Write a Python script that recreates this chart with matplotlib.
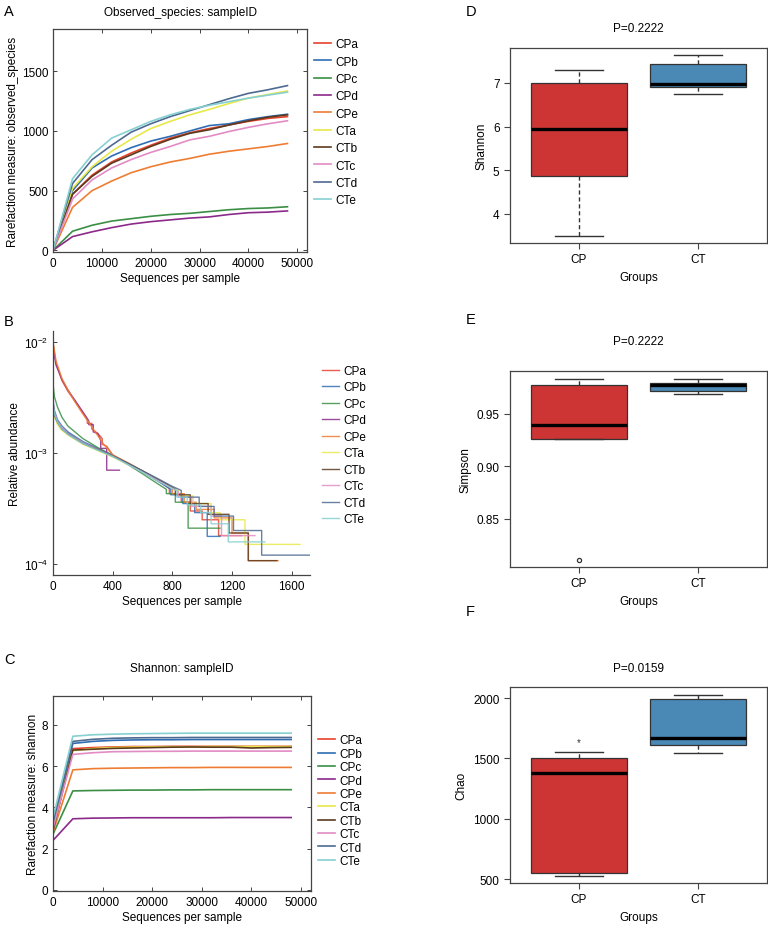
import matplotlib
matplotlib.use('Agg')
import matplotlib.pyplot as plt
import numpy as np

plt.rcParams['font.family'] = ['Liberation Sans', 'DejaVu Sans']

samples = ['CPa', 'CPb', 'CPc', 'CPd', 'CPe', 'CTa', 'CTb', 'CTc', 'CTd', 'CTe']
colors = ['#E8412C', '#2E6DB4', '#3A8F45', '#8B2A8B', '#EE7D33',
          '#E8E84A', '#5C3A1E', '#E28BC4', '#4E6A90', '#86D0D2']

# A: observed species rarefaction
depths = [0, 4000, 8000, 12000, 16000, 20000, 24000, 28000, 32000, 36000, 40000, 44000, 48000]
obs_CPa = [0, 470, 630, 740, 815, 880, 940, 985, 1020, 1050, 1080, 1105, 1120]
obs_CPb = [0, 500, 690, 790, 860, 915, 955, 1000, 1045, 1060, 1095, 1120, 1140]
obs_CPc = [0, 160, 210, 245, 265, 285, 300, 310, 325, 340, 350, 355, 365]
obs_CPd = [0, 115, 155, 190, 220, 240, 255, 270, 280, 300, 315, 320, 330]
obs_CPe = [0, 360, 500, 580, 650, 700, 740, 770, 805, 830, 850, 870, 895]
obs_CTa = [0, 520, 700, 830, 930, 1020, 1080, 1135, 1180, 1230, 1275, 1305, 1335]
obs_CTb = [0, 470, 620, 730, 800, 870, 930, 980, 1010, 1050, 1085, 1115, 1135]
obs_CTc = [0, 430, 590, 690, 760, 820, 870, 925, 955, 995, 1030, 1060, 1085]
obs_CTd = [0, 560, 760, 880, 990, 1060, 1120, 1170, 1220, 1270, 1315, 1345, 1380]
obs_CTe = [0, 600, 800, 940, 1010, 1080, 1135, 1180, 1215, 1245, 1275, 1300, 1325]
observed = [obs_CPa, obs_CPb, obs_CPc, obs_CPd, obs_CPe, obs_CTa, obs_CTb, obs_CTc, obs_CTd, obs_CTe]

# B: rank abundance (rank, relative abundance) knots, incl. step corners
ra_CPa = [(0, 1.0e-2), (20, 6.5e-3), (60, 4.5e-3), (100, 3.6e-3), (150, 2.9e-3), (200, 2.3e-3),
          (230, 2.0e-3), (230, 1.85e-3), (260, 1.85e-3), (260, 1.65e-3), (300, 1.5e-3),
          (330, 1.35e-3), (330, 1.2e-3), (360, 1.15e-3), (400, 9.6e-4), (500, 8.0e-4), (600, 6.8e-4),
          (700, 5.7e-4), (780, 4.8e-4), (780, 4.3e-4), (860, 4.3e-4), (860, 3.6e-4), (920, 3.6e-4),
          (920, 3.0e-4), (1000, 3.0e-4), (1000, 2.5e-4), (1110, 2.5e-4), (1110, 1.8e-4), (1265, 1.8e-4)]
ra_CPb = [(0, 3.0e-3), (10, 2.4e-3), (30, 2.0e-3), (60, 1.75e-3), (100, 1.55e-3), (200, 1.27e-3),
          (300, 1.1e-3), (400, 9.6e-4), (500, 8.1e-4), (600, 6.8e-4), (700, 5.6e-4), (790, 4.7e-4),
          (790, 4.2e-4), (870, 4.2e-4), (870, 3.5e-4), (950, 3.5e-4), (950, 2.9e-4), (1034, 2.9e-4),
          (1034, 1.77e-4), (1120, 1.77e-4)]
ra_CPc = [(0, 4.2e-3), (10, 3.2e-3), (30, 2.6e-3), (60, 2.1e-3), (100, 1.75e-3), (200, 1.35e-3),
          (300, 1.12e-3), (400, 9.5e-4), (500, 7.9e-4), (600, 6.5e-4), (700, 5.3e-4), (760, 4.7e-4),
          (760, 4.3e-4), (820, 4.3e-4), (820, 3.6e-4), (906, 3.6e-4), (906, 2.1e-4), (1120, 2.1e-4)]
ra_CPd = [(0, 9.0e-3), (20, 6.2e-3), (60, 4.6e-3), (100, 3.7e-3), (150, 2.95e-3), (200, 2.35e-3),
          (240, 1.95e-3), (240, 1.8e-3), (270, 1.8e-3), (270, 1.55e-3), (300, 1.5e-3),
          (320, 1.3e-3), (320, 1.1e-3), (360, 1.1e-3), (360, 7.0e-4), (445, 7.0e-4)]
ra_CPe = [(0, 1.0e-2), (20, 6.8e-3), (60, 4.7e-3), (100, 3.7e-3), (150, 2.85e-3), (200, 2.25e-3),
          (250, 1.8e-3), (290, 1.5e-3), (340, 1.2e-3), (400, 9.6e-4), (500, 8.2e-4), (600, 6.9e-4),
          (700, 5.8e-4), (800, 4.8e-4), (800, 4.3e-4), (880, 4.3e-4), (880, 3.6e-4), (960, 3.6e-4),
          (960, 3.1e-4), (1080, 3.1e-4), (1080, 2.6e-4), (1200, 2.6e-4), (1200, 1.9e-4),
          (1310, 1.9e-4), (1310, 1.07e-4), (1510, 1.07e-4)]
ra_CTa = [(0, 2.6e-3), (10, 2.1e-3), (30, 1.8e-3), (60, 1.6e-3), (100, 1.45e-3), (200, 1.2e-3),
          (300, 1.05e-3), (400, 9.2e-4), (500, 7.9e-4), (600, 6.8e-4), (700, 5.8e-4), (800, 4.9e-4),
          (840, 4.6e-4), (840, 4.1e-4), (940, 4.1e-4), (940, 3.5e-4), (1060, 3.5e-4), (1060, 2.9e-4),
          (1120, 2.9e-4), (1120, 2.5e-4), (1287, 2.5e-4), (1287, 1.5e-4), (1656, 1.5e-4)]
ra_CTb = [(0, 2.8e-3), (10, 2.2e-3), (30, 1.9e-3), (60, 1.65e-3), (100, 1.5e-3), (200, 1.23e-3),
          (300, 1.08e-3), (400, 9.4e-4), (500, 8.1e-4), (600, 6.9e-4), (700, 5.8e-4), (800, 4.9e-4),
          (820, 4.7e-4), (820, 4.2e-4), (920, 4.2e-4), (920, 3.5e-4), (1040, 3.5e-4), (1040, 2.8e-4),
          (1180, 2.8e-4), (1180, 1.9e-4), (1309, 1.9e-4), (1309, 1.07e-4), (1500, 1.07e-4)]
ra_CTc = [(0, 2.9e-3), (10, 2.3e-3), (30, 1.95e-3), (60, 1.7e-3), (100, 1.5e-3), (200, 1.24e-3),
          (300, 1.08e-3), (400, 9.4e-4), (500, 8.0e-4), (600, 6.8e-4), (700, 5.7e-4), (800, 4.8e-4),
          (840, 4.5e-4), (840, 4.0e-4), (930, 4.0e-4), (930, 3.3e-4), (1060, 3.3e-4), (1060, 2.7e-4),
          (1130, 2.7e-4), (1130, 1.8e-4), (1354, 1.8e-4)]
ra_CTd = [(0, 2.7e-3), (10, 2.2e-3), (30, 1.9e-3), (60, 1.65e-3), (100, 1.48e-3), (200, 1.22e-3),
          (300, 1.07e-3), (400, 9.4e-4), (500, 8.1e-4), (600, 6.9e-4), (700, 5.9e-4), (800, 5.0e-4),
          (860, 4.6e-4), (860, 4.0e-4), (980, 4.0e-4), (980, 3.3e-4), (1080, 3.3e-4), (1080, 2.7e-4),
          (1210, 2.7e-4), (1210, 2.0e-4), (1399, 2.0e-4), (1399, 1.2e-4), (1723, 1.2e-4)]
ra_CTe = [(0, 2.8e-3), (10, 2.25e-3), (30, 1.9e-3), (60, 1.65e-3), (100, 1.47e-3), (200, 1.22e-3),
          (300, 1.06e-3), (400, 9.3e-4), (500, 7.9e-4), (600, 6.7e-4), (700, 5.6e-4), (800, 4.8e-4),
          (830, 4.6e-4), (830, 4.0e-4), (900, 4.0e-4), (900, 3.4e-4), (990, 3.4e-4), (990, 2.9e-4),
          (1060, 2.9e-4), (1060, 2.3e-4), (1175, 2.3e-4), (1175, 1.58e-4), (1421, 1.58e-4)]
rank_abund = [ra_CPa, ra_CPb, ra_CPc, ra_CPd, ra_CPe, ra_CTa, ra_CTb, ra_CTc, ra_CTd, ra_CTe]

# C: shannon rarefaction
sh_CPa = [2.9, 6.85, 6.90, 6.93, 6.95, 6.95, 6.96, 6.96, 6.96, 6.96, 6.96, 6.96, 6.96]
sh_CPb = [3.1, 7.10, 7.20, 7.25, 7.27, 7.28, 7.28, 7.29, 7.29, 7.29, 7.29, 7.29, 7.29]
sh_CPc = [2.7, 4.80, 4.82, 4.83, 4.84, 4.84, 4.85, 4.85, 4.86, 4.86, 4.86, 4.86, 4.86]
sh_CPd = [2.4, 3.45, 3.48, 3.49, 3.50, 3.50, 3.50, 3.50, 3.50, 3.51, 3.51, 3.51, 3.51]
sh_CPe = [2.8, 5.82, 5.88, 5.90, 5.91, 5.92, 5.93, 5.93, 5.94, 5.94, 5.94, 5.94, 5.94]
sh_CTa = [3.0, 6.75, 6.85, 6.90, 6.92, 6.93, 6.94, 6.94, 6.95, 6.95, 6.95, 6.95, 6.95]
sh_CTb = [2.9, 6.78, 6.82, 6.86, 6.88, 6.90, 6.92, 6.93, 6.92, 6.92, 6.88, 6.90, 6.91]
sh_CTc = [3.0, 6.57, 6.65, 6.70, 6.71, 6.72, 6.72, 6.73, 6.73, 6.73, 6.73, 6.73, 6.73]
sh_CTd = [3.3, 7.20, 7.30, 7.35, 7.37, 7.38, 7.38, 7.39, 7.39, 7.39, 7.39, 7.39, 7.39]
sh_CTe = [3.5, 7.45, 7.52, 7.55, 7.57, 7.58, 7.59, 7.60, 7.60, 7.60, 7.60, 7.60, 7.60]
shannon = [sh_CPa, sh_CPb, sh_CPc, sh_CPd, sh_CPe, sh_CTa, sh_CTb, sh_CTc, sh_CTd, sh_CTe]

# D-F: group box plot summaries (whislo, q1, med, q3, whishi, fliers)
groups = ['CP', 'CT']
box_colors = ['#CD3535', '#4A88B5']
shannon_box = [dict(whislo=3.49, q1=4.855, med=5.95, q3=7.0, whishi=7.30, fliers=[]),
               dict(whislo=6.74, q1=6.915, med=6.98, q3=7.43, whishi=7.64, fliers=[])]
simpson_box = [dict(whislo=0.9264, q1=0.9264, med=0.9398, q3=0.978, whishi=0.9831, fliers=[0.8108]),
               dict(whislo=0.9688, q1=0.9723, med=0.978, q3=0.9796, whishi=0.9838, fliers=[])]
chao_box = [dict(whislo=530, q1=552, med=1376, q3=1500, whishi=1552, fliers=[]),
            dict(whislo=1544, q1=1608, med=1668, q3=1994, whishi=2022, fliers=[])]
chao_star = 1635
p_values = ['P=0.2222', 'P=0.2222', 'P=0.0159']

W, H = 768, 928
FS = 8.5
fig = plt.figure(figsize=(W / 100, H / 100), dpi=100)


def rect(l, t, r, b):
    return [l / W, 1 - b / H, (r - l) / W, (b - t) / H]


spine_col = '#444444'


def style_line_axes(ax, full_box=True):
    for s in ax.spines.values():
        s.set_color(spine_col)
        s.set_linewidth(0.9)
    if not full_box:
        ax.spines['top'].set_visible(False)
        ax.spines['right'].set_visible(False)
    ax.tick_params(labelsize=FS, length=3, color=spine_col, width=0.7,
                   direction='in', top=full_box, right=full_box)


# ---- A
axA = fig.add_axes(rect(53, 30, 307, 253))
for vals, name, col in zip(observed, samples, colors):
    axA.plot(depths, vals, color=col, lw=1.2, label=name)
axA.set_xlim(0, 52000)
axA.set_ylim(-14, 1854)
axA.set_xticks([0, 10000, 20000, 30000, 40000, 50000])
axA.set_yticks([0, 500, 1000, 1500])
axA.set_xlabel('Sequences per sample', fontsize=FS, labelpad=2)
axA.set_ylabel('Rarefaction measure: observed_species', fontsize=FS, labelpad=2)
axA.set_title('Observed_species: sampleID', fontsize=FS, pad=10)
style_line_axes(axA)
axA.legend(loc='upper left', bbox_to_anchor=(1.0, 0.99), frameon=False, fontsize=FS,
           handlelength=1.4, handletextpad=0.4, labelspacing=0.45, borderaxespad=0.2)

# ---- B
axB = fig.add_axes(rect(53, 332, 310, 576))
for pts, name, col in zip(rank_abund, samples, colors):
    r = [p[0] for p in pts]
    v = [p[1] for p in pts]
    axB.plot(r, v, color=col, lw=1.0, alpha=0.85, label=name)
axB.set_yscale('log')
axB.set_xlim(0, 1723)
axB.set_ylim(10 ** -4.1, 10 ** -1.9)
axB.set_xticks([0, 400, 800, 1200, 1600])
axB.set_yticks([1e-4, 1e-3, 1e-2])
axB.set_xlabel('Sequences per sample', fontsize=FS, labelpad=2)
axB.set_ylabel('Relative abundance', fontsize=FS, labelpad=2)
style_line_axes(axB, full_box=False)
axB.tick_params(which='minor', left=False)
axB.legend(loc='upper left', bbox_to_anchor=(1.02, 0.89), frameon=False, fontsize=FS,
           handlelength=1.4, handletextpad=0.4, labelspacing=0.38, borderaxespad=0.2)

# ---- C
axC = fig.add_axes(rect(53, 697, 311, 892))
for vals, name, col in zip(shannon, samples, colors):
    axC.plot(depths, vals, color=col, lw=1.2, label=name)
axC.set_xlim(0, 52000)
axC.set_ylim(-0.05, 9.4)
axC.set_xticks([0, 10000, 20000, 30000, 40000, 50000])
axC.set_yticks([0, 2, 4, 6, 8])
axC.set_xlabel('Sequences per sample', fontsize=FS, labelpad=2)
axC.set_ylabel('Rarefaction measure: shannon', fontsize=FS, labelpad=2)
axC.set_title('Shannon: sampleID', fontsize=FS, pad=18)
style_line_axes(axC)
axC.legend(loc='upper left', bbox_to_anchor=(1.0, 0.84), frameon=False, fontsize=FS,
           handlelength=1.4, handletextpad=0.4, labelspacing=0.12, borderaxespad=0.2)

# ---- D, E, F
box_specs = [
    (rect(510, 49, 767, 244), shannon_box, 'Shannon', (3.33, 7.80), [4, 5, 6, 7], p_values[0], 12),
    (rect(510, 372, 767, 568), simpson_box, 'Simpson', (0.8038, 0.991), [0.85, 0.90, 0.95], p_values[1], 19.5),
    (rect(510, 688, 767, 884), chao_box, 'Chao', (470, 2091), [500, 1000, 1500, 2000], p_values[2], 11.5),
]
box_axes = []
for pos, stats, ylab, ylim, yt, ptxt, tpad in box_specs:
    ax = fig.add_axes(pos)
    bp = ax.bxp(stats, positions=[1, 2], widths=0.8, patch_artist=True,
                boxprops=dict(edgecolor='#333333', linewidth=0.9),
                medianprops=dict(color='black', linewidth=2.4),
                whiskerprops=dict(color='#333333', linewidth=1.0, linestyle=(0, (3, 2))),
                capprops=dict(color='#333333', linewidth=1.0),
                capwidths=0.4,
                flierprops=dict(marker='o', markersize=3, markerfacecolor='none',
                                markeredgecolor='#333333', markeredgewidth=0.9))
    for patch, col in zip(bp['boxes'], box_colors):
        patch.set_facecolor(col)
    ax.set_xlim(0.42, 2.58)
    ax.set_ylim(*ylim)
    ax.set_yticks(yt)
    ax.set_xticks([1, 2])
    ax.set_xticklabels(groups)
    ax.tick_params(labelsize=FS, length=4, color=spine_col, width=0.8)
    for s in ax.spines.values():
        s.set_color(spine_col)
        s.set_linewidth(0.9)
    ax.set_ylabel(ylab, fontsize=FS, labelpad=4)
    ax.set_xlabel('Groups', fontsize=FS, labelpad=4)
    ax.set_title(ptxt, fontsize=FS, pad=tpad)
    box_axes.append(ax)

box_axes[2].text(1, chao_star, '*', ha='center', va='center', fontsize=7, color='#333333')

# panel letters
for letter, x, y in [('A', 4, 12), ('B', 4, 322), ('C', 4, 660),
                     ('D', 466, 12), ('E', 466, 320), ('F', 466, 612)]:
    fig.text(x / W, 1 - y / H, letter, fontsize=10.5, va='center', ha='left')

fig.savefig('out.png', dpi=100)
